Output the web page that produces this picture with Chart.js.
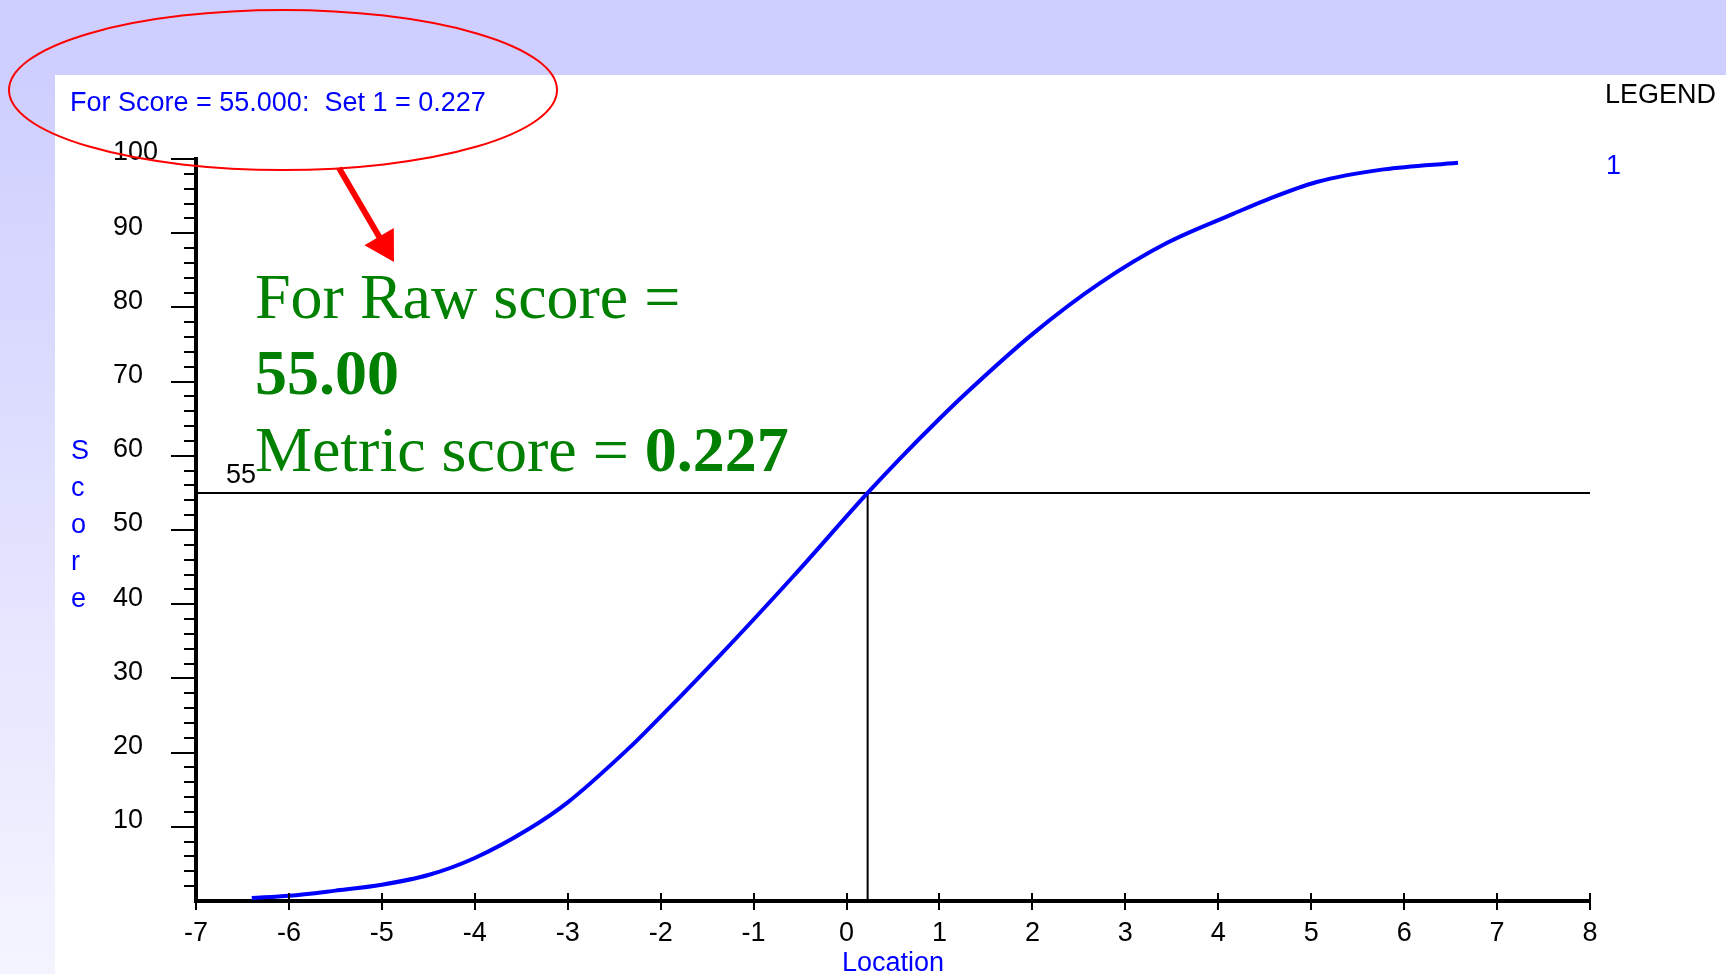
<!DOCTYPE html>
<html>
<head>
<meta charset="utf-8">
<title>Score by Location</title>
<script src="https://cdn.jsdelivr.net/npm/chart.js@4.4.0/dist/chart.umd.min.js"></script>
<style>
  html, body { margin: 0; padding: 0; background: #ffffff; }
  #wrap { position: relative; width: 1726px; height: 974px; overflow: hidden; }
  canvas { display: block; }
</style>
</head>
<body>
<div id="wrap"><canvas id="chart" width="1726" height="974"></canvas></div>
<script>
// Expected score curve for Set 1: location (logits) against raw score
const locations = [-6.40, -6.00, -5.50, -5.00, -4.50, -4.00, -3.42, -3.00, -2.35, -2.17, -1.40, -0.57, 0.227, 0.58, 1.00, 1.30, 2.01, 2.73, 3.45, 4.16, 4.50, 5.06, 5.78, 6.58];
const scores    = [0.4, 0.7, 1.4, 2.2, 3.5, 5.8, 9.7, 13.3, 20.5, 22.7, 32.6, 43.8, 55.0, 59.7, 65.0, 68.6, 76.5, 83.3, 88.7, 92.6, 94.4, 96.9, 98.6, 99.5];

// Point
const selectedScore = 55;
const selectedLocation = 0.227;

// Axis ranges and tick spacing
const xRange = [-7, 8];
const yRange = [0, 100];
const xStep = 1;
const yMinorStep = 2;
const yLabelStep = 10;

const seriesNames = ['1'];

const SANS = '"Liberation Sans", Arial, sans-serif';
const SERIF = '"Liberation Serif", "Times New Roman", serif';
const BLUE = '#0000ff';
const GREEN = '#008000';
const LAVENDER = '#cfcfff';

// Page backdrop: lavender band on top, fading strip on the left
const backdrop = {
  id: 'backdrop',
  beforeDraw(chart) {
    const { ctx, width, height } = chart;
    ctx.save();
    ctx.fillStyle = '#ffffff';
    ctx.fillRect(0, 0, width, height);
    const g = ctx.createLinearGradient(0, 75, 0, height);
    g.addColorStop(0, LAVENDER);
    g.addColorStop(1, '#f4f4ff');
    ctx.fillStyle = g;
    ctx.fillRect(0, 75, 55, height - 75);
    ctx.fillStyle = LAVENDER;
    ctx.fillRect(0, 0, width, 75);
    ctx.restore();
  }
};

// Tick marks: long and short marks on the score axis, crossing marks on the location axis
const axisMarks = {
  id: 'axisMarks',
  afterDraw(chart) {
    const { ctx, scales: { x, y } } = chart;
    ctx.save();
    ctx.strokeStyle = '#000000';
    ctx.lineWidth = 2;
    y.ticks.forEach(t => {
      if (t.value === yRange[0]) return;
      const py = Math.round(y.getPixelForValue(t.value));
      const len = t.value % yLabelStep === 0 ? 25 : 12;
      ctx.beginPath();
      ctx.moveTo(x.left - len, py);
      ctx.lineTo(x.left + 1, py);
      ctx.stroke();
    });
    x.ticks.forEach(t => {
      const px = Math.round(x.getPixelForValue(t.value));
      ctx.beginPath();
      ctx.moveTo(px, y.bottom - 8);
      ctx.lineTo(px, y.bottom + 9);
      ctx.stroke();
    });
    ctx.restore();
  }
};

// Header line, legend, axis caption, value callout and highlight
const annotations = {
  id: 'annotations',
  afterDraw(chart) {
    const { ctx, scales: { x, y } } = chart;
    ctx.save();
    ctx.textBaseline = 'alphabetic';
    ctx.textAlign = 'left';

    // header readout
    ctx.font = '27px ' + SANS;
    ctx.fillStyle = BLUE;
    ctx.fillText('For Score = ' + selectedScore.toFixed(3) + ':  Set 1 = ' + selectedLocation.toFixed(3), 70, 111);

    // legend
    ctx.fillStyle = '#000000';
    ctx.fillText('LEGEND', 1605, 103);
    ctx.fillStyle = BLUE;
    ctx.fillText(seriesNames[0], 1606, 174);

    // vertical axis caption
    const caption = 'Score';
    for (let i = 0; i < caption.length; i++) {
      ctx.fillText(caption[i], 71, 459 + i * 37);
    }

    // level label beside the horizontal guide
    ctx.fillStyle = '#000000';
    ctx.fillText(String(selectedScore), 226, Math.round(y.getPixelForValue(selectedScore)) - 10);

    // callout
    ctx.fillStyle = GREEN;
    ctx.font = '64px ' + SERIF;
    ctx.fillText('For Raw score =', 255, 318);
    ctx.font = 'bold 64px ' + SERIF;
    ctx.fillText(selectedScore.toFixed(2), 255, 394);
    ctx.font = '64px ' + SERIF;
    const lead = 'Metric score = ';
    ctx.fillText(lead, 255, 471);
    const w = ctx.measureText(lead).width;
    ctx.font = 'bold 64px ' + SERIF;
    ctx.fillText(selectedLocation.toFixed(3), 255 + w, 471);

    // red ellipse around the header readout
    ctx.strokeStyle = '#ff0000';
    ctx.lineWidth = 2;
    ctx.beginPath();
    ctx.ellipse(283, 90, 274, 80, 0, 0, Math.PI * 2);
    ctx.stroke();

    // red arrow pointing to the callout
    const x0 = 339, y0 = 168, x1 = 394, y1 = 262;
    const ang = Math.atan2(y1 - y0, x1 - x0);
    const head = 34, spread = Math.PI / 6;
    ctx.lineWidth = 6;
    ctx.lineCap = 'butt';
    ctx.beginPath();
    ctx.moveTo(x0, y0);
    ctx.lineTo(x1 - Math.cos(ang) * head * 0.6, y1 - Math.sin(ang) * head * 0.6);
    ctx.stroke();
    ctx.fillStyle = '#ff0000';
    ctx.beginPath();
    ctx.moveTo(x1, y1);
    ctx.lineTo(x1 - head * Math.cos(ang - spread), y1 - head * Math.sin(ang - spread));
    ctx.lineTo(x1 - head * Math.cos(ang + spread), y1 - head * Math.sin(ang + spread));
    ctx.closePath();
    ctx.fill();

    ctx.restore();
  }
};

const curve = locations.map((v, i) => ({ x: v, y: scores[i] }));

new Chart(document.getElementById('chart'), {
  type: 'line',
  data: {
    datasets: [
      {
        label: seriesNames[0],
        data: curve,
        borderColor: BLUE,
        borderWidth: 4,
        pointRadius: 0,
        fill: false,
        cubicInterpolationMode: 'monotone'
      },
      {
        label: 'level',
        data: [{ x: xRange[0], y: selectedScore }, { x: xRange[1], y: selectedScore }],
        borderColor: '#000000',
        borderWidth: 2,
        pointRadius: 0,
        fill: false
      },
      {
        label: 'location',
        data: [{ x: selectedLocation, y: yRange[0] }, { x: selectedLocation, y: selectedScore }],
        borderColor: '#000000',
        borderWidth: 2,
        pointRadius: 0,
        fill: false
      }
    ]
  },
  options: {
    responsive: false,
    animation: false,
    events: [],
    layout: { padding: { left: 113, top: 159, right: 136, bottom: 0 } },
    plugins: {
      legend: { display: false },
      tooltip: { enabled: false },
      title: { display: false }
    },
    scales: {
      x: {
        type: 'linear',
        min: xRange[0],
        max: xRange[1],
        grid: { display: false, drawTicks: false },
        border: { display: true, color: '#000000', width: 4 },
        ticks: {
          stepSize: xStep,
          autoSkip: false,
          maxRotation: 0,
          padding: 16,
          color: '#000000',
          font: { family: SANS, size: 27, lineHeight: 1.2 },
          callback: v => String(v)
        },
        title: {
          display: true,
          text: 'Location',
          color: BLUE,
          padding: 0,
          font: { family: SANS, size: 27, lineHeight: 0.8 }
        },
        afterFit(scale) { scale.height = 73; }
      },
      y: {
        type: 'linear',
        min: yRange[0],
        max: yRange[1],
        grid: { display: false, drawTicks: false },
        border: { display: true, color: '#000000', width: 4 },
        ticks: {
          stepSize: yMinorStep,
          autoSkip: false,
          crossAlign: 'far',
          labelOffset: -6,
          color: '#000000',
          font: { family: SANS, size: 27, lineHeight: 1.2 },
          callback: v => (v % yLabelStep === 0 && v > yRange[0]) ? String(v) : ''
        },
        afterFit(scale) { scale.width = 83; }
      }
    }
  },
  plugins: [backdrop, axisMarks, annotations]
});
</script>
</body>
</html>
